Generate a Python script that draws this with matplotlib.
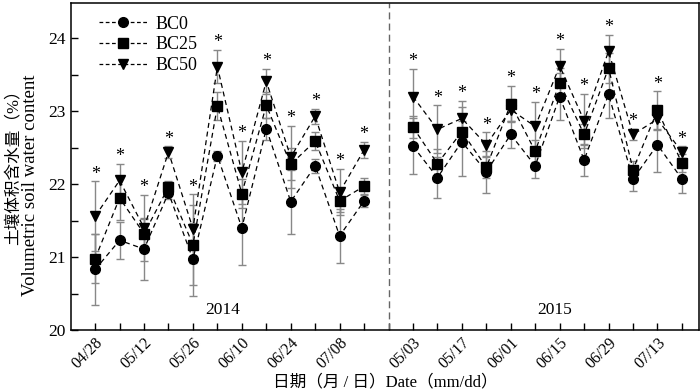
import numpy as np
import matplotlib
matplotlib.use("Agg")
import matplotlib.pyplot as plt
from matplotlib.lines import Line2D
from matplotlib.ticker import MultipleLocator
import matplotlib.transforms as mtransforms

plt.rcParams['font.family'] = ['Liberation Serif', 'Noto Sans CJK SC']

# 2014 series
bc0_2014 = [20.83, 21.23, 21.11, 21.88, 20.97, 22.39, 21.40, 22.76, 21.76, 22.25, 21.29, 21.77]
bc25_2014 = [20.98, 21.81, 21.32, 21.96, 21.17, 23.07, 21.87, 23.08, 22.27, 22.59, 21.77, 21.97]
bc50_2014 = [21.56, 22.05, 21.40, 22.44, 21.39, 23.61, 22.16, 23.41, 22.37, 22.93, 21.89, 22.47]
bc0_err_2014 = [0.48, 0.25, 0.43, 0.08, 0.50, 0.07, 0.51, 0.15, 0.44, 0.10, 0.37, 0.09]
bc25_err_2014 = [0.33, 0.30, 0.20, 0.08, 0.55, 0.19, 0.20, 0.18, 0.22, 0.12, 0.15, 0.12]
bc50_err_2014 = [0.48, 0.23, 0.45, 0.08, 0.47, 0.23, 0.43, 0.17, 0.43, 0.10, 0.32, 0.11]

# 2015 series
bc0_2015 = [22.52, 22.09, 22.58, 22.17, 22.68, 22.25, 23.20, 22.33, 23.23, 22.07, 22.54, 22.07]
bc25_2015 = [22.78, 22.28, 22.72, 22.23, 23.10, 22.45, 23.39, 22.68, 23.59, 22.20, 23.01, 22.29]
bc50_2015 = [23.20, 22.75, 22.90, 22.54, 23.02, 22.79, 23.62, 22.87, 23.82, 22.68, 22.89, 22.44]
bc0_err_2015 = [0.38, 0.28, 0.47, 0.29, 0.19, 0.17, 0.32, 0.22, 0.33, 0.17, 0.38, 0.19]
bc25_err_2015 = [0.15, 0.20, 0.15, 0.15, 0.25, 0.15, 0.20, 0.15, 0.20, 0.12, 0.26, 0.12]
bc50_err_2015 = [0.38, 0.33, 0.24, 0.17, 0.15, 0.34, 0.23, 0.37, 0.23, 0.08, 0.15, 0.08]

tick_labels_2014 = ["04/28", "", "05/12", "", "05/26", "", "06/10", "", "06/24", "", "07/08", ""]
tick_labels_2015 = ["", "05/03", "", "05/17", "", "06/01", "", "06/15", "", "06/29", "", "07/13", ""]

labels = ["BC0", "BC25", "BC50"]
markers = ["o", "s", "v"]

x2014 = np.arange(12)
x2015 = np.arange(13, 25)

fig = plt.figure(figsize=(7, 3.92), dpi=100)
ax = fig.add_axes([0.101, 0.158, 0.8976, 0.834])

years = [
    (x2014, [bc0_2014, bc25_2014, bc50_2014], [bc0_err_2014, bc25_err_2014, bc50_err_2014]),
    (x2015, [bc0_2015, bc25_2015, bc50_2015], [bc0_err_2015, bc25_err_2015, bc50_err_2015]),
]

for xs, vals, errs in years:
    for v, e, m in zip(vals, errs, markers):
        ax.errorbar(xs, v, yerr=e, fmt='none', ecolor='#888888', elinewidth=1,
                    capsize=3, capthick=1, zorder=2)
        ax.plot(xs, v, linestyle=(0, (4, 3)), color='black', linewidth=0.9,
                marker=m, markersize=7, markerfacecolor='black',
                markeredgecolor='black', zorder=3)
    # significance stars above highest error cap
    tops = np.max([np.array(v) + np.array(e) for v, e in zip(vals, errs)], axis=0)
    for xi, t in zip(xs, tops):
        ax.annotate("*", (xi, t), xytext=(0, -1), textcoords='offset points',
                    ha='center', va='bottom', fontsize=13)

ax.axvline(12, color='#666666', linestyle=(0, (5, 3)), linewidth=1)

ax.text(5.2, 20.27, "2014", ha='center', va='center', fontsize=12.5)
ax.text(18.8, 20.27, "2015", ha='center', va='center', fontsize=12.5)

ax.set_xlim(-1, 24.7)
ax.set_ylim(20, 24.48)
ax.set_xticks(np.arange(25))
ax.set_xticklabels(tick_labels_2014 + tick_labels_2015, rotation=45,
                   ha='right', va='top', rotation_mode='anchor', fontsize=11.5)
offset = mtransforms.ScaledTranslation(8 / 72, -1 / 72, fig.dpi_scale_trans)
for lab in ax.get_xticklabels():
    lab.set_transform(lab.get_transform() + offset)
ax.yaxis.set_major_locator(MultipleLocator(1))
ax.yaxis.set_minor_locator(MultipleLocator(0.5))
ax.tick_params(axis='both', which='both', direction='in', length=5, width=1)
ax.tick_params(axis='y', labelsize=12.5)
for sp in ax.spines.values():
    sp.set_linewidth(1.1)

ax.set_xlabel("日期（月 / 日）Date（mm/dd）", fontsize=12, labelpad=2)
fig.text(15 / 700, 1 - 163 / 392, "土壤体积含水量（%）", rotation=90,
         ha='center', va='center', fontsize=12)
fig.text(31 / 700, 1 - 185 / 392, "Volumetric soil water content", rotation=90,
         ha='center', va='center', fontsize=13.5)

handles = [Line2D([], [], linestyle=(0, (3, 2)), color='black', linewidth=0.9,
                  marker=m, markersize=7) for m in markers]
ax.legend(handles, labels, loc='upper left', frameon=False, fontsize=13,
          handlelength=2.7, handletextpad=0.4, borderaxespad=0.3,
          labelspacing=0.2, bbox_to_anchor=(0.025, 1.0))

fig.savefig("out.png", dpi=100)
